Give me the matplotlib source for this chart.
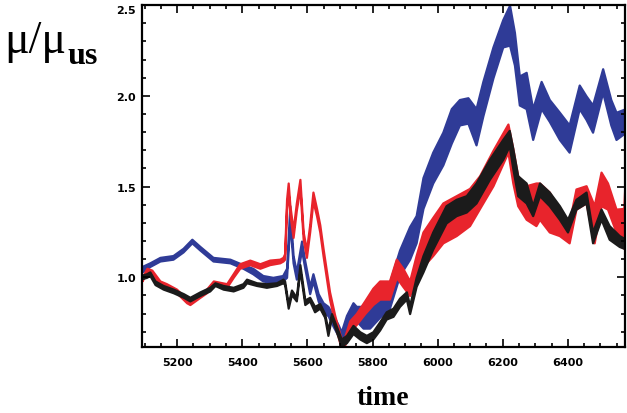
import matplotlib
matplotlib.use("Agg")
import matplotlib.pyplot as plt
import numpy as np
from matplotlib.ticker import MultipleLocator

# envelope of each noisy trace: time, lower, upper
blue_t = [5092, 5116, 5147, 5187, 5218, 5245, 5270, 5310, 5362, 5402, 5432, 5463, 5494,
          5524, 5536, 5546, 5556, 5566, 5582, 5592, 5607, 5617, 5633, 5648, 5663, 5679,
          5694, 5704, 5720, 5740, 5750, 5771, 5791, 5822, 5852, 5883, 5914, 5934, 5955,
          5985, 6016, 6042, 6067, 6093, 6118, 6139, 6170, 6200, 6221, 6236, 6251, 6272,
          6292, 6318, 6343, 6374, 6404, 6435, 6456, 6476, 6507, 6532, 6548, 6578]
blue_lo = [1.03, 1.06, 1.09, 1.10, 1.14, 1.19, 1.15, 1.09, 1.08, 1.05, 1.02, 0.98, 0.97,
           0.98, 1.00, 1.30, 1.08, 0.99, 1.15, 1.05, 0.91, 0.98, 0.87, 0.80, 0.79, 0.73,
           0.68, 0.65, 0.72, 0.78, 0.76, 0.72, 0.72, 0.78, 0.83, 1.01, 1.10, 1.19, 1.38,
           1.52, 1.62, 1.74, 1.84, 1.85, 1.73, 1.89, 2.10, 2.27, 2.28, 2.17, 1.95, 1.93,
           1.76, 1.93, 1.86, 1.76, 1.69, 1.93, 1.87, 1.80, 2.02, 1.84, 1.76, 1.80]
blue_hi = [1.06, 1.08, 1.11, 1.12, 1.16, 1.21, 1.17, 1.11, 1.10, 1.07, 1.05, 1.01, 1.00,
           1.01, 1.05, 1.395, 1.12, 1.03, 1.20, 1.09, 0.95, 1.02, 0.91, 0.86, 0.84, 0.79,
           0.74, 0.70, 0.79, 0.86, 0.84, 0.84, 0.88, 0.92, 0.97, 1.15, 1.28, 1.34, 1.55,
           1.69, 1.80, 1.93, 1.98, 1.99, 1.93, 2.08, 2.27, 2.42, 2.50, 2.35, 2.11, 2.13,
           1.93, 2.08, 1.98, 1.91, 1.84, 2.06, 2.00, 1.95, 2.15, 1.98, 1.91, 1.93]

red_t = [5092, 5107, 5122, 5147, 5167, 5198, 5229, 5239, 5270, 5290, 5311, 5352, 5372,
         5392, 5423, 5454, 5484, 5515, 5525, 5530, 5536, 5541, 5546, 5556, 5566, 5577,
         5587, 5597, 5607, 5617, 5628, 5638, 5648, 5658, 5668, 5684, 5699, 5709, 5730,
         5750, 5776, 5801, 5822, 5852, 5873, 5893, 5914, 5934, 5955, 5985, 6016, 6057,
         6098, 6129, 6170, 6216, 6231, 6246, 6272, 6302, 6313, 6343, 6374, 6404, 6425,
         6456, 6481, 6502, 6522, 6548, 6572, 6578]
red_lo = [0.98, 1.03, 1.02, 0.96, 0.945, 0.915, 0.86, 0.85, 0.89, 0.915, 0.96, 0.945, 1.00,
          1.05, 1.07, 1.05, 1.07, 1.08, 1.09, 1.10, 1.38, 1.47, 1.35, 1.22, 1.37, 1.49,
          1.21, 1.11, 1.25, 1.42, 1.34, 1.25, 1.12, 1.00, 0.88, 0.75, 0.64, 0.60, 0.70,
          0.74, 0.80, 0.85, 0.88, 0.88, 1.00, 0.95, 0.90, 0.98, 1.06, 1.12, 1.19, 1.23,
          1.285, 1.38, 1.505, 1.69, 1.52, 1.395, 1.32, 1.285, 1.32, 1.25, 1.23, 1.19, 1.376,
          1.41, 1.19, 1.395, 1.376, 1.25, 1.16, 1.20]
red_hi = [1.00, 1.05, 1.04, 0.98, 0.965, 0.935, 0.88, 0.87, 0.91, 0.935, 0.98, 0.965, 1.02,
          1.075, 1.095, 1.075, 1.095, 1.10, 1.11, 1.13, 1.43, 1.52, 1.40, 1.26, 1.41, 1.54,
          1.25, 1.15, 1.29, 1.47, 1.38, 1.29, 1.16, 1.04, 0.92, 0.79, 0.69, 0.64, 0.76,
          0.80, 0.87, 0.94, 0.98, 0.98, 1.10, 1.05, 0.98, 1.12, 1.25, 1.33, 1.41, 1.45,
          1.49, 1.56, 1.70, 1.845, 1.71, 1.56, 1.505, 1.52, 1.52, 1.47, 1.376, 1.30, 1.487,
          1.505, 1.395, 1.58, 1.52, 1.376, 1.38, 1.62]

black_t = [5088, 5106, 5116, 5132, 5157, 5188, 5219, 5239, 5270, 5300, 5316, 5341, 5372,
           5402, 5413, 5444, 5474, 5505, 5525, 5530, 5536, 5541, 5551, 5566, 5577, 5592,
           5607, 5622, 5638, 5653, 5663, 5674, 5689, 5704, 5720, 5740, 5761, 5781, 5801,
           5822, 5842, 5863, 5883, 5904, 5914, 5934, 5955, 5985, 6026, 6057, 6088, 6118,
           6159, 6200, 6220, 6231, 6246, 6272, 6292, 6313, 6343, 6374, 6399, 6425, 6456,
           6476, 6502, 6527, 6558, 6578]
black_lo = [0.99, 1.00, 1.01, 0.96, 0.935, 0.915, 0.89, 0.87, 0.90, 0.925, 0.955, 0.935, 0.925,
            0.945, 0.97, 0.955, 0.945, 0.955, 0.97, 0.96, 0.89, 0.83, 0.905, 0.87, 1.04, 0.85,
            0.87, 0.81, 0.83, 0.78, 0.68, 0.78, 0.70, 0.62, 0.64, 0.69, 0.66, 0.64, 0.66,
            0.71, 0.77, 0.785, 0.84, 0.88, 0.80, 0.95, 1.03, 1.156, 1.30, 1.34, 1.36, 1.41,
            1.54, 1.65, 1.725, 1.60, 1.45, 1.41, 1.34, 1.45, 1.395, 1.32, 1.25, 1.376, 1.41,
            1.19, 1.32, 1.21, 1.17, 1.156]
black_hi = [1.01, 1.02, 1.03, 0.98, 0.955, 0.935, 0.91, 0.89, 0.92, 0.945, 0.97, 0.955, 0.945,
            0.965, 0.99, 0.97, 0.965, 0.97, 0.99, 0.98, 0.91, 0.855, 0.93, 0.89, 1.07, 0.875,
            0.89, 0.84, 0.855, 0.80, 0.71, 0.80, 0.73, 0.66, 0.68, 0.735, 0.70, 0.68, 0.70,
            0.755, 0.81, 0.83, 0.885, 0.92, 0.845, 1.00, 1.12, 1.25, 1.395, 1.43, 1.45, 1.52,
            1.65, 1.76, 1.81, 1.71, 1.56, 1.52, 1.395, 1.52, 1.47, 1.395, 1.32, 1.43, 1.47,
            1.25, 1.376, 1.285, 1.23, 1.21]

xticks = [5200, 5400, 5600, 5800, 6000, 6200, 6400]
yticks = [1.0, 1.5, 2.0, 2.5]

fig = plt.figure(figsize=(6.27, 4.14), dpi=100)
ax = fig.add_axes([0.226, 0.159, 0.771, 0.826])

series = [(blue_t, blue_lo, blue_hi, "#2f3b97"),
          (red_t, red_lo, red_hi, "#e8242c"),
          (black_t, black_lo, black_hi, "#1b1b1b")]
for t, lo, hi, c in series:
    ax.fill_between(t, lo, hi, color=c, edgecolor=c, linewidth=1.6)

ax.set_xlim(5091, 6576)
ax.set_ylim(0.615, 2.5)
ax.set_xticks(xticks)
ax.set_yticks(yticks)
ax.set_yticklabels(["%.1f" % v for v in yticks])
ax.xaxis.set_minor_locator(MultipleLocator(50))
ax.yaxis.set_minor_locator(MultipleLocator(0.1))
ax.tick_params(which="both", direction="in", top=True, right=True, width=1.2)
ax.tick_params(which="major", length=6)
ax.tick_params(which="minor", length=3)
ax.tick_params(axis="x", pad=7)
ax.tick_params(axis="y", pad=4)
for lab in ax.get_xticklabels() + ax.get_yticklabels():
    lab.set_fontweight("bold")
    lab.set_fontsize(8)
ax.get_yticklabels()[-1].set_va("top")
for s in ax.spines.values():
    s.set_linewidth(1.6)

fig.text(0.006, 0.872, "\u03bc/\u03bc", fontsize=33, family="Liberation Serif")
fig.text(0.108, 0.846, "us", fontsize=23, family="Liberation Serif", fontweight="bold")
fig.text(0.611, 0.022, "time", fontsize=20, family="Liberation Serif",
         fontweight="bold", ha="center")

fig.savefig("out.png", dpi=100)
